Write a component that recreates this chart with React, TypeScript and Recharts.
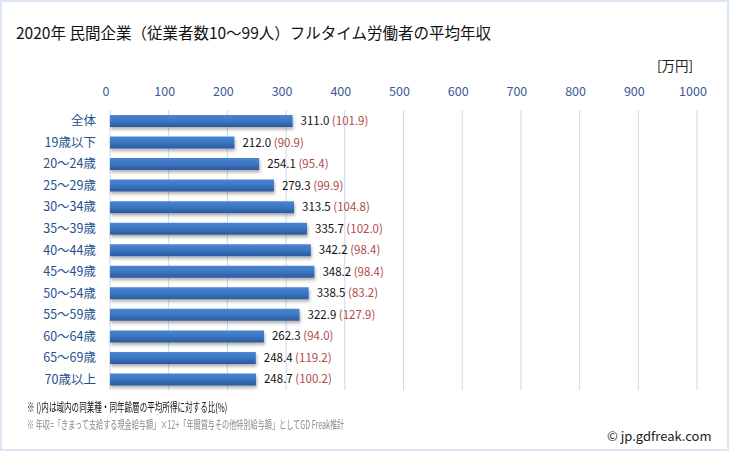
import React from 'react';
import { BarChart, Bar, XAxis, YAxis, CartesianGrid, LabelList } from 'recharts';

const categories = ['全体', '19歳以下', '20～24歳', '25～29歳', '30～34歳', '35～39歳', '40～44歳', '45～49歳', '50～54歳', '55～59歳', '60～64歳', '65～69歳', '70歳以上'];
const salaries = [311.0, 212.0, 254.1, 279.3, 313.5, 335.7, 342.2, 348.2, 338.5, 322.9, 262.3, 248.4, 248.7];
const ratios = [101.9, 90.9, 95.4, 99.9, 104.8, 102.0, 98.4, 98.4, 83.2, 127.9, 94.0, 119.2, 100.2];
const xTicks = [0, 100, 200, 300, 400, 500, 600, 700, 800, 900, 1000];

const data = categories.map((name, i) => ({ name, value: salaries[i], ratio: ratios[i] }));

const FONT = '"Noto Sans CJK JP", "Noto Sans", sans-serif';

const TopTick = ({ x, payload }: any) => (
  <text x={x - 4} y={96} textAnchor="middle" fontSize={12.5} fill="#3b5b92" fontFamily={FONT}>
    {payload.value}
  </text>
);

const CatTick = ({ y, payload }: any) => (
  <text x={96} y={y + 4.5} textAnchor="end" fontSize={12.5} fill="#24508f" fontFamily={FONT}>
    {payload.value}
  </text>
);

const ValueLabel = (props: any) => {
  const { x, y, width, height, index } = props;
  return (
    <text x={x + width + 8} y={y + height / 2 + 4} fontSize={11.5} fontFamily={FONT}>
      <tspan fill="#111">{salaries[index].toFixed(1)}</tspan>
      <tspan fill="#b04a4a">{' (' + ratios[index].toFixed(1) + ')'}</tspan>
    </text>
  );
};

export default function App() {
  return (
    <div style={{ position: 'fixed', left: 0, top: 0, width: 729, height: 451, background: '#fff' }}>
      <div style={{ position: 'absolute', inset: 0, border: '2px solid #dbe6f4', boxSizing: 'border-box', pointerEvents: 'none', zIndex: 2 }} />
      <div style={{ position: 'absolute', left: 16, top: 21, fontSize: 15.5, color: '#111', fontFamily: FONT, whiteSpace: 'nowrap' }}>
        2020年 民間企業（従業者数10～99人）フルタイム労働者の平均年収
      </div>
      <div style={{ position: 'absolute', left: 657, top: 55, fontSize: 13.5, color: '#222', fontFamily: FONT }}>[万円]</div>
      <BarChart
        width={729}
        height={451}
        layout="vertical"
        data={data}
        margin={{ top: 80, right: 32, left: 0, bottom: 61 }}
      >
        <defs>
          <linearGradient id="barGrad" x1="0" y1="0" x2="0" y2="1">
            <stop offset="0%" stopColor="#4a86d2" />
            <stop offset="55%" stopColor="#3a73bf" />
            <stop offset="100%" stopColor="#2a5a9a" />
          </linearGradient>
          <filter id="barShadow" x="-5%" y="-30%" width="110%" height="180%">
            <feDropShadow dx="1" dy="2.5" stdDeviation="1.5" floodColor="#000" floodOpacity="0.3" />
          </filter>
        </defs>
        <CartesianGrid horizontal={false} stroke="#c9daef" strokeWidth={1} />
        <XAxis
          type="number"
          orientation="top"
          height={30}
          domain={[0, 1000]}
          ticks={xTicks}
          axisLine={false}
          tickLine={false}
          tick={<TopTick />}
        />
        <YAxis
          type="category"
          dataKey="name"
          width={110}
          axisLine={false}
          tickLine={false}
          tick={<CatTick />}
          interval={0}
        />
        <Bar dataKey="value" barSize={12} fill="url(#barGrad)" filter="url(#barShadow)" isAnimationActive={false}>
          <LabelList dataKey="value" content={<ValueLabel />} />
        </Bar>
      </BarChart>
      <div style={{ position: 'absolute', left: 27, top: 398, fontSize: 12, color: '#111', fontFamily: FONT, whiteSpace: 'nowrap', transform: 'scaleX(0.63)', transformOrigin: 'left top' }}>
        ※ ()内は域内の同業種・同年齢層の平均所得に対する比(%)
      </div>
      <div style={{ position: 'absolute', left: 27, top: 416, fontSize: 11.5, color: '#8a8a8a', fontFamily: FONT, whiteSpace: 'nowrap', transform: 'scaleX(0.62)', transformOrigin: 'left top' }}>
        ※ 年収=「きまって支給する現金給与額」×12+「年間賞与その他特別給与額」としてGD Freak推計
      </div>
      <div style={{ position: 'absolute', left: 607, top: 426, fontSize: 13, color: '#222', fontFamily: FONT, whiteSpace: 'nowrap' }}>
        © jp.gdfreak.com
      </div>
    </div>
  );
}
